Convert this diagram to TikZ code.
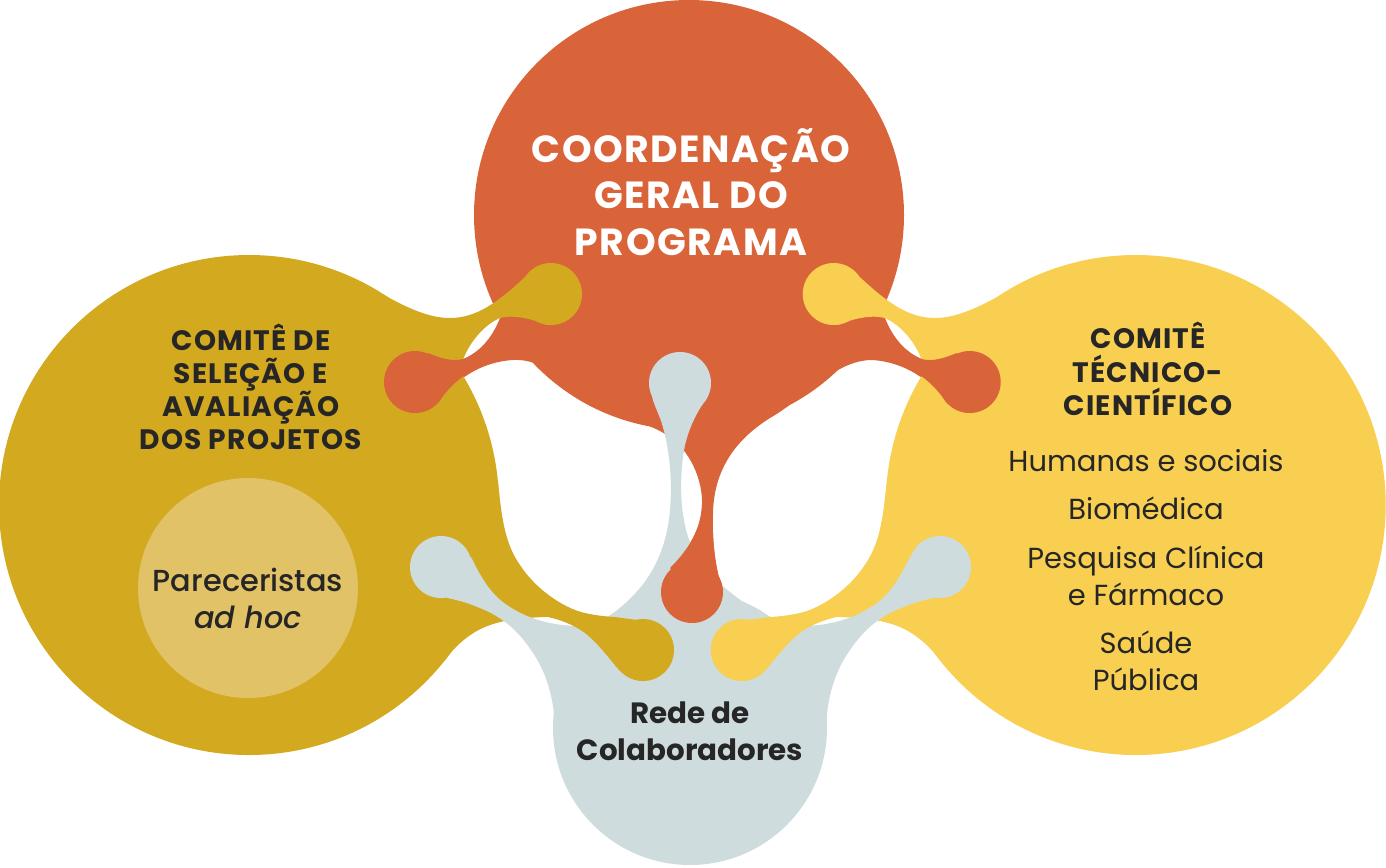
\documentclass[tikz,border=0pt]{standalone}
\usepackage{fontspec}
\setmainfont{Poppins}[FontFace={mb}{n}{Font=Poppins Medium}, FontFace={mb}{it}{Font=Poppins Medium Italic}]
\usepackage{xcolor}
\usepackage{tikz}

\definecolor{coordorange}{HTML}{D9643A}
\definecolor{selmustard}{HTML}{D3A920}
\definecolor{tecyellow}{HTML}{F8CF51}
\definecolor{redegray}{HTML}{CFDCDD}
\definecolor{parlight}{HTML}{E1C266}
\definecolor{textdark}{HTML}{262626}

\begin{document}
\begin{tikzpicture}[x=0.02cm, y=-0.02cm,
        headwhite/.style={align=center, text=white, font=\bfseries\fontsize{21.5}{26.4}\selectfont\addfontfeatures{LetterSpace=4}},
        headdark/.style={align=center, text=textdark, font=\bfseries\fontsize{16}{18.9}\selectfont\addfontfeatures{LetterSpace=4}},
        areatext/.style={align=center, text=textdark, font=\fontsize{16.5}{21}\selectfont},
        circtext/.style={align=center, text=textdark, font=\fontseries{mb}\fontsize{17.3}{21}\selectfont}]

            \useasboundingbox (0,0) rectangle (1386,867);

            % coordenacao body with both arms and the drop
            \fill[coordorange] (689,215) circle (215);
            \fill[coordorange] (560,290) -- (500,318) .. controls (492,338) and (480,352) .. (463,359)
                .. controls (452,362) and (440,358) .. (428,353) -- (415,382) -- (438,403)
                .. controls (455,380) and (480,362) .. (513,360) .. controls (545,358) and (565,385) .. (603,408)
                .. controls (625,420) and (650,423) .. (668,436) .. controls (690,450) and (703,480) .. (702,505)
                .. controls (701,530) and (688,550) .. (670,568) -- (692,592) -- (721,585)
                .. controls (715,565) and (712,540) .. (713,513) .. controls (714,470) and (735,440) .. (770,418)
                .. controls (805,398) and (835,360) .. (872,360) .. controls (905,362) and (930,380) .. (947,403)
                -- (970,382) -- (957,353) .. controls (945,358) and (933,362) .. (922,359)
                .. controls (905,352) and (893,338) .. (885,318) -- (825,290) -- cycle;

            % side committees, right one mirrored
            \foreach \mx/\sx/\col in {0/1/selmustard, 27.7/-1/tecyellow}{
                \begin{scope}[xshift=\mx cm, xscale=\sx]
                    \fill[\col] (249,505) circle (250);
                    \fill[\col] (350,300) -- (350,278) .. controls (380,290) and (415,318) .. (450,318)
                        .. controls (478,318) and (500,300) .. (525,277) -- (551,294) -- (547,325)
                        .. controls (535,320) and (515,314) .. (500,318) .. controls (483,325) and (468,345) .. (463,360)
                        -- (430,400) -- cycle;
                    \fill[\col] (551,294) circle (31);
                    \fill[\col] (480,480) -- (497.7,480) .. controls (501,505) and (502,540) .. (520,565)
                        .. controls (533,585) and (555,603) .. (580,612) -- (545,617)
                        .. controls (520,618) and (495,620) .. (475,632) .. controls (462,640) and (452,650) .. (445,660) -- cycle;
                \end{scope}
            }

            % orange arms lie over the committees
            \foreach \mx/\sx in {0/1, 27.7/-1}{
                \begin{scope}[xshift=\mx cm, xscale=\sx]
                    \fill[coordorange] (463,359) .. controls (452,362) and (440,358) .. (428,353) -- (415,382) -- (438,403)
                        .. controls (450,385) and (465,372) .. (485,365) -- cycle;
                    \fill[coordorange] (415,382) circle (31);
                \end{scope}
            }

            % rede de colaboradores
            \fill[redegray] (690,728) circle (137);
            \fill[redegray] (600,740) -- (555,740) .. controls (556,705) and (548,675) .. (533,653)
                .. controls (520,633) and (505,618) .. (480,608) .. controls (468,603) and (458,600) .. (447,598)
                -- (441,567) -- (471,557) .. controls (480,575) and (490,595) .. (510,607)
                .. controls (530,620) and (555,626) .. (580,626) .. controls (605,624) and (625,605) .. (640,588)
                .. controls (655,570) and (667,545) .. (670,510) .. controls (673,475) and (668,440) .. (660,418)
                .. controls (656,408) and (653,402) .. (652,396) -- (680,383) -- (707,398)
                .. controls (698,410) and (690,425) .. (685,445) .. controls (680,470) and (680,500) .. (684,520)
                .. controls (688,545) and (700,565) .. (715,580) .. controls (740,600) and (770,626) .. (801,626)
                .. controls (826,626) and (851,620) .. (871,607) .. controls (891,595) and (901,575) .. (910,557)
                -- (940,567) -- (934,598) .. controls (923,600) and (913,603) .. (901,608)
                .. controls (876,618) and (861,633) .. (848,653) .. controls (833,675) and (825,705) .. (826,740)
                -- (780,740) -- cycle;
            \fill[redegray] (441,567) circle (31);
            \fill[redegray] (940,567) circle (31);
            \fill[redegray] (680,383) circle (31);

            % the drop over the rede
            \fill[coordorange] (702,505) .. controls (701,530) and (688,550) .. (670,568) -- (692,592) -- (721,585)
                .. controls (715,565) and (712,540) .. (713,513) -- cycle;
            \fill[coordorange] (692,592) circle (31);

            % lower arms of the committees
            \foreach \mx/\sx/\col in {0/1/selmustard, 27.7/-1/tecyellow}{
                \begin{scope}[xshift=\mx cm, xscale=\sx]
                    \fill[\col] (560,604) .. controls (575,612) and (595,616) .. (615,617) -- (637,620) -- (643,650)
                        -- (620,671) .. controls (610,660) and (600,645) .. (585,633)
                        .. controls (570,622) and (550,616) .. (530,614) -- cycle;
                    \fill[\col] (643,650) circle (31);
                \end{scope}
            }

            \fill[parlight] (248,588) circle (110);

            \node[headwhite] (coord) at (691,192) {COORDENAÇÃO\\GERAL DO\\PROGRAMA};
            \node[headdark] (selecao) at (251,387) {COMITÊ DE\\SELEÇÃO E\\AVALIAÇÃO\\DOS PROJETOS};
            \node[headdark] (tecnico) at (1148,369) {COMITÊ\\TÉCNICO-\\CIENTÍFICO};
            \node[areatext] (areas) at (1146,570) {Humanas e sociais\\[6.5pt]Biomédica\\[6.5pt]Pesquisa Clínica\\e Fármaco\\[6.5pt]Saúde\\Pública};
            \node[circtext] (pareceristas) at (248,598) {Pareceristas\\\textit{ad hoc}};
            \node[circtext, font=\bfseries\fontsize{16.7}{21}\selectfont] (rede) at (690,731) {Rede de\\Colaboradores};
\end{tikzpicture}
\end{document}
